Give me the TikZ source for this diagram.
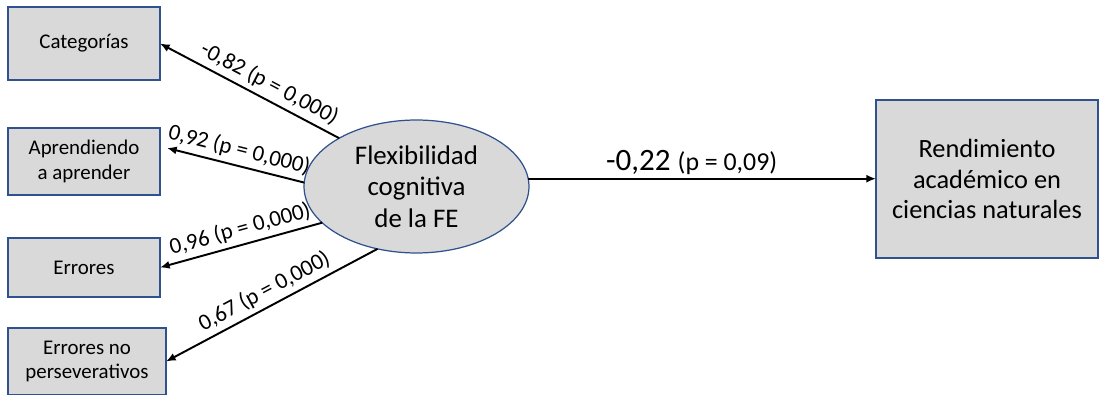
\documentclass[tikz,border=0pt]{standalone}
\usepackage{fontspec}
\setmainfont{Carlito}
\usetikzlibrary{arrows.meta, shapes.geometric}

\definecolor{boxfill}{HTML}{D9D9D9}
\definecolor{boxline}{HTML}{2F528F}

\tikzset{
  indicator/.style={draw=boxline, line width=0.85pt, fill=boxfill, inner sep=0pt, outer sep=0pt,
    align=center, font=\fontsize{11.9}{14.2}\selectfont},
  construct/.style={ellipse, draw=boxline, line width=0.7pt, fill=boxfill, inner sep=0pt, outer sep=0pt,
    minimum width=4.5cm, minimum height=2.66cm, align=center, font=\fontsize{15.3}{17.9}\selectfont},
  loading/.style={-{Latex[length=5.5pt, width=4.6pt]}, line width=1.1pt},
  coef/.style={sloped, above, inner sep=2.5pt, font=\fontsize{13}{15}\selectfont}
}

\begin{document}
\begin{tikzpicture}[x=0.02cm, y=-0.02cm]
  \useasboundingbox (0,0) rectangle (1106,395);

  % indicadores
  \node[indicator, minimum width=3.04cm, minimum height=1.46cm] (cat) at (84,43.5) {Categorías};
  \node[indicator, minimum width=3.04cm, minimum height=1.34cm] (apr) at (84,161.5) {Aprendiendo\\a aprender};
  \node[indicator, minimum width=3.04cm, minimum height=1.18cm] (err) at (84,267.5) {Errores};
  \node[indicator, minimum width=3.16cm, minimum height=1.34cm] (enp) at (87,361.5) {Errores no\\perseverativos};

  \node[construct] (fe) at (416.5,186.5) {Flexibilidad\\cognitiva\\de la FE};
  \node[indicator, minimum width=4.44cm, minimum height=3.16cm, font=\fontsize{15}{17.3}\selectfont]
    (rend) at (987,179) {Rendimiento\\académico en\\ciencias naturales};

  \coordinate (aprtip) at ([xshift=0.14cm, yshift=0.27cm]apr.east);

  \foreach \ang/\tgt/\t/\val in {148/cat.east/0.43/{-0,82 (p = 0,000)},
      178/aprtip/0.5/{0,92 (p = 0,000)},
      201/err.east/0.48/{0,96 (p = 0,000)},
      238/enp.east/0.5/{0,67 (p = 0,000)}}
    \draw[loading] (fe.\ang) -- (\tgt) node[coef, pos=\t] {\val};

  \draw[loading] (fe.4) -- (fe.4 -| rend.west)
    node[pos=0.47, above, inner sep=2pt] {\fontsize{17.7}{20}\selectfont -0,22 \fontsize{14.7}{17}\selectfont (p = 0,09)};
\end{tikzpicture}
\end{document}
